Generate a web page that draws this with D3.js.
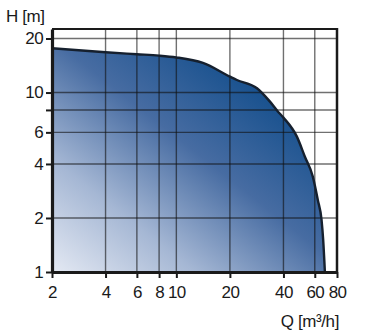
<!DOCTYPE html>
<html>
<head>
<meta charset="utf-8">
<script src="https://cdn.jsdelivr.net/npm/d3@7"></script>
<style>
  html, body { margin: 0; padding: 0; background: #fff; }
  svg { display: block; }
  text { font-family: "Liberation Sans", Arial, sans-serif; fill: #1a1a1a; }
</style>
</head>
<body>
<svg id="chart" width="369" height="335"></svg>
<script>
// Pump curve data (Q in m3/h, H in m)
const flowQ = [2, 4, 6, 8, 10, 14.1, 20, 21.9, 28.4, 33.6, 37.2, 40, 47.6, 52.8, 58.5, 62.4, 65.5, 66.9, 68.4];
const headH = [17.66, 16.77, 16.35, 16.06, 15.69, 14.62, 12.27, 11.75, 10.57, 8.9, 7.85, 7.25, 5.68, 4.39, 3.4, 2.52, 1.95, 1.51, 1.0];

const xTicks = [2, 4, 6, 8, 10, 20, 40, 60, 80];
const xTickLabels = ["2", "4", "6", "8", "10", "20", "40", "60", "80"];
const yTicks = [1, 2, 4, 6, 8, 10, 20];
const yTickLabels = ["1", "2", "4", "6", "", "10", "20"];
const xGrid = [4, 6, 8, 10, 20, 40, 60];
const yGrid = [2, 4, 6, 8, 10, 20];
const xDomain = [2, 80];
const yDomain = [1, 22.6];
const xTitle = "Q [m³/h]";
const yTitle = "H [m]";

const svg = d3.select("#chart");
const L = 52, R = 337, T = 29, B = 272;

const x = d3.scaleLog().domain(xDomain).range([L, R]);
const y = d3.scaleLog().domain(yDomain).range([B, T]);

// gradient
const defs = svg.append("defs");
const grad = defs.append("linearGradient")
  .attr("id", "fillGrad")
  .attr("gradientUnits", "userSpaceOnUse")
  .attr("x1", L).attr("y1", B)
  .attr("x2", 235).attr("y2", 40);
grad.append("stop").attr("offset", 0).attr("stop-color", "#e4e9f3");
grad.append("stop").attr("offset", 0.3).attr("stop-color", "#a5b7d4");
grad.append("stop").attr("offset", 0.62).attr("stop-color", "#476ca2");
grad.append("stop").attr("offset", 1).attr("stop-color", "#0c4a89");

const pts = flowQ.map((q, i) => [x(q), y(headH[i])]);

// area
const areaGen = d3.area()
  .x(d => d[0])
  .y0(B)
  .y1(d => d[1])
  .curve(d3.curveMonotoneX);
svg.append("path")
  .datum(pts)
  .attr("d", areaGen)
  .attr("fill", "url(#fillGrad)");

// grid lines
svg.append("g").selectAll("line").data(xGrid).join("line")
  .attr("x1", d => x(d)).attr("x2", d => x(d))
  .attr("y1", T).attr("y2", B)
  .attr("stroke", "#111").attr("stroke-opacity", 0.6).attr("stroke-width", 1.4);
svg.append("g").selectAll("line").data(yGrid).join("line")
  .attr("x1", L).attr("x2", R)
  .attr("y1", d => y(d)).attr("y2", d => y(d))
  .attr("stroke", "#111").attr("stroke-opacity", 0.6).attr("stroke-width", 1.4);

// curve outline
const lineGen = d3.line().x(d => d[0]).y(d => d[1]).curve(d3.curveMonotoneX);
svg.append("path")
  .datum(pts)
  .attr("d", lineGen)
  .attr("fill", "none")
  .attr("stroke", "#16202e")
  .attr("stroke-width", 2.4);

// frame
svg.append("line").attr("x1", L).attr("x2", R).attr("y1", T).attr("y2", T)
  .attr("stroke", "#1a1a1a").attr("stroke-width", 2.2);
svg.append("line").attr("x1", R).attr("x2", R).attr("y1", T - 1).attr("y2", B)
  .attr("stroke", "#1a1a1a").attr("stroke-width", 2.5);

// axes
const xAxis = d3.axisBottom(x).tickValues(xTicks)
  .tickFormat((d, i) => xTickLabels[i]).tickSize(6).tickSizeOuter(0).tickPadding(8);
const gx = svg.append("g").attr("transform", `translate(0,${B})`).call(xAxis);
gx.select(".domain").attr("stroke", "#1a1a1a").attr("stroke-width", 3.2);
gx.selectAll(".tick line").attr("stroke", "#1a1a1a").attr("stroke-width", 2);
gx.selectAll(".tick text").attr("font-size", 17).attr("letter-spacing", -0.6)
  .style("font-family", "'Liberation Sans', Arial, sans-serif").attr("fill", "#1a1a1a");

const yAxis = d3.axisLeft(y).tickValues(yTicks)
  .tickFormat((d, i) => yTickLabels[i]).tickSize(6).tickSizeOuter(0).tickPadding(3);
const gy = svg.append("g").attr("transform", `translate(${L},0)`).call(yAxis);
gy.select(".domain").attr("stroke", "#1a1a1a").attr("stroke-width", 3.2);
gy.selectAll(".tick line").attr("stroke", "#1a1a1a").attr("stroke-width", 2);
gy.selectAll(".tick text").attr("font-size", 17).attr("letter-spacing", -0.6)
  .style("font-family", "'Liberation Sans', Arial, sans-serif").attr("fill", "#1a1a1a");

// titles
svg.append("text").attr("x", 6).attr("y", 22).attr("font-size", 17)
  .attr("letter-spacing", -0.4).text(yTitle);
svg.append("text").attr("x", 339).attr("y", 327).attr("font-size", 17)
  .attr("text-anchor", "end").attr("letter-spacing", -0.4).text(xTitle);
</script>
</body>
</html>
